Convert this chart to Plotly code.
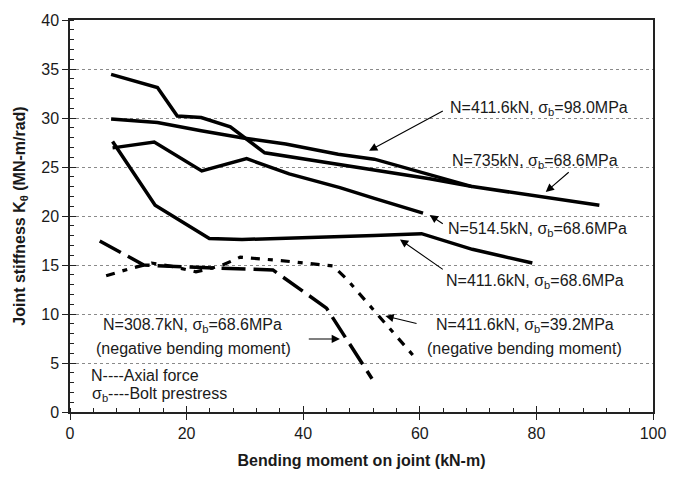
import plotly.graph_objects as go

# ---- data ----
x_n4116_98 = [7.05, 15.0, 18.4, 22.5, 27.5, 33.4, 61.7, 69.0]
y_n4116_98 = [34.45, 33.1, 30.2, 30.05, 29.1, 26.45, 23.8, 23.0]

x_n735 = [7.05, 15.0, 22.5, 29.7, 37.0, 46.0, 52.2, 69.0, 90.8]
y_n735 = [29.9, 29.55, 28.7, 27.95, 27.35, 26.3, 25.8, 23.0, 21.1]

x_n5145 = [7.3, 14.45, 22.6, 30.3, 37.6, 46.3, 52.2, 60.55]
y_n5145 = [26.95, 27.55, 24.6, 25.85, 24.3, 22.9, 21.8, 20.3]

x_n4116_686 = [7.3, 14.6, 23.9, 29.5, 52.2, 60.3, 69.0, 79.3]
y_n4116_686 = [27.6, 21.1, 17.7, 17.6, 18.0, 18.2, 16.6, 15.2]

x_n3087_neg = [5.1, 12.65, 20.0, 27.0, 34.8, 44.0, 51.8]
y_n3087_neg = [17.45, 15.0, 14.8, 14.7, 14.5, 10.6, 3.4]

x_n4116_392_neg = [6.2, 10.1, 14.0, 18.0, 21.6, 25.8, 29.2, 33.7, 36.2, 45.1, 47.4, 59.7]
y_n4116_392_neg = [13.9, 14.6, 15.2, 14.8, 14.3, 14.9, 15.8, 15.6, 15.45, 14.9, 13.6, 5.2]

x_ticks = [0, 20, 40, 60, 80, 100]
y_ticks = [0, 5, 10, 15, 20, 25, 30, 35, 40]

FONT = "Liberation Sans, Arial, Helvetica, sans-serif"
TXT = "#1a1a1a"

fig = go.Figure()

solid = dict(color="black", width=3.5)
for xs, ys, name in [
    (x_n4116_98, y_n4116_98, "N=411.6kN, σb=98.0MPa"),
    (x_n735, y_n735, "N=735kN, σb=68.6MPa"),
    (x_n5145, y_n5145, "N=514.5kN, σb=68.6MPa"),
    (x_n4116_686, y_n4116_686, "N=411.6kN, σb=68.6MPa"),
]:
    fig.add_trace(go.Scatter(x=xs, y=ys, mode="lines", line=solid, name=name))

fig.add_trace(go.Scatter(x=x_n3087_neg, y=y_n3087_neg, mode="lines",
                         line=dict(color="black", width=3.5, dash="24px,8px"),
                         name="N=308.7kN (neg)"))
fig.add_trace(go.Scatter(x=x_n4116_392_neg, y=y_n4116_392_neg, mode="lines",
                         line=dict(color="black", width=3.2, dash="9px,8px,5px,8px"),
                         name="N=411.6kN σb=39.2MPa (neg)"))

# helper invisible trace for overlay axes (crossing ticks)
fig.add_trace(go.Scatter(x=[None], y=[None], xaxis="x2", yaxis="y2",
                         showlegend=False, hoverinfo="skip"))

def text_ann(x, y, t, anchor="left"):
    fig.add_annotation(x=x, y=y, xref="x", yref="y", text=t, showarrow=False,
                       xanchor=anchor, yanchor="middle",
                       font=dict(family=FONT, size=16, color=TXT))

def arrow(x_head, y_head, x_tail, y_tail):
    fig.add_annotation(x=x_head, y=y_head, ax=x_tail, ay=y_tail,
                       xref="x", yref="y", axref="x", ayref="y", text="",
                       showarrow=True, arrowhead=2, arrowsize=1.5,
                       arrowwidth=1.1, arrowcolor="black")

text_ann(64.9, 31.0, "N=411.6kN, σ<sub>b</sub>=98.0MPa")
arrow(51.3, 26.65, 64.2, 30.8)
text_ann(65.1, 25.6, "N=735kN, σ<sub>b</sub>=68.6MPa")
arrow(81.6, 22.45, 85.8, 24.6)
text_ann(64.5, 18.6, "N=514.5kN, σ<sub>b</sub>=68.6MPa")
arrow(61.7, 20.1, 64.2, 19.1)
text_ann(64.2, 13.35, "N=411.6kN, σ<sub>b</sub>=68.6MPa")
arrow(56.6, 17.6, 64.2, 14.45)
text_ann(78.0, 8.78, "N=411.6kN, σ<sub>b</sub>=39.2MPa", "center")
text_ann(78.0, 6.45, "(negative bending moment)", "center")
arrow(54.1, 9.8, 59.7, 9.0)
text_ann(21.05, 8.78, "N=308.7kN, σ<sub>b</sub>=68.6MPa", "center")
text_ann(21.1, 6.45, "(negative bending moment)", "center")
arrow(46.3, 7.45, 40.7, 7.45)
text_ann(3.3, 3.7, "N----Axial force")
text_ann(3.5, 1.8, "σ<sub>b</sub>----Bolt prestress")

axis_common = dict(showline=True, linecolor="#222", linewidth=1.5, mirror=True,
                   zeroline=False, tickcolor="#222",
                   tickfont=dict(family=FONT, size=16, color=TXT))

fig.update_layout(
    width=678, height=479,
    margin=dict(l=70, r=13, t=20, b=60),
    plot_bgcolor="white", paper_bgcolor="white",
    showlegend=False,
    xaxis=dict(range=[0, 100], tickmode="array", tickvals=x_ticks,
               ticks="outside", ticklen=6, tickwidth=1,
               minor=dict(dtick=4, ticks="inside", ticklen=4, tickcolor="#222", showgrid=False),
               showgrid=False,
               title=dict(text="<b>Bending moment on joint (kN-m)</b>",
                          font=dict(family=FONT, size=16, color=TXT), standoff=14),
               **axis_common),
    yaxis=dict(range=[0, 40], tickmode="array", tickvals=y_ticks,
               ticks="outside", ticklen=6, tickwidth=1,
               minor=dict(dtick=1, ticks="inside", ticklen=4, tickcolor="#222", showgrid=False),
               showgrid=True, gridcolor="#8a8a8a", gridwidth=1, griddash="dot",
               title=dict(text="<b>Joint stiffness K<sub>θ</sub> (MN-m/rad)</b>",
                          font=dict(family=FONT, size=16, color=TXT), standoff=12),
               **axis_common),
    xaxis2=dict(overlaying="x", range=[0, 100], tickmode="array", tickvals=x_ticks,
                ticks="inside", ticklen=6, tickcolor="#222", showticklabels=False,
                showgrid=False, zeroline=False, showline=False, side="bottom"),
    yaxis2=dict(overlaying="y", range=[0, 40], tickmode="array", tickvals=y_ticks,
                ticks="inside", ticklen=6, tickcolor="#222", showticklabels=False,
                showgrid=False, zeroline=False, showline=False, side="left"),
)

fig.write_html("out.html")
